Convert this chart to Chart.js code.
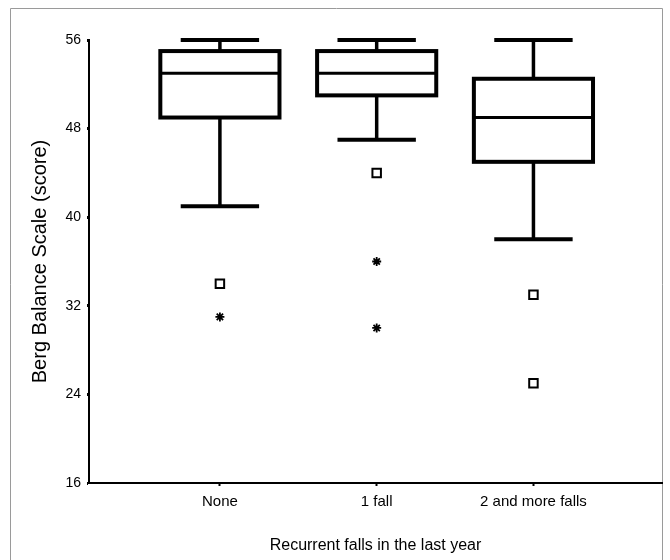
<!DOCTYPE html>
<html>
<head>
<meta charset="utf-8">
<script src="https://cdn.jsdelivr.net/npm/chart.js@4"></script>
<style>
  html, body { margin: 0; padding: 0; background: #fff; }
  #wrap { width: 670px; height: 560px; }
</style>
</head>
<body>
<div id="wrap"><canvas id="bbsChart" width="670" height="560"></canvas></div>
<script>
// Berg Balance Scale by number of recurrent falls
const groups = ['None', '1 fall', '2 and more falls'];
const whiskerHigh = [56, 56, 56];
const q3 = [55, 55, 52.5];
const medians = [53, 53, 49];
const q1 = [49, 51, 45];
const whiskerLow = [41, 47, 38];
const outliersSquare = [[34], [44], [33, 25]];
const outliersStar = [[31], [36, 30], []];
const yTicks = [16, 24, 32, 40, 48, 56];

const FONT = 'Liberation Sans, Arial, sans-serif';

function toPoints(lists) {
    return lists.flatMap((vals, i) => vals.map(v => ({ x: i + 1, y: v })));
}

// outer frame of the figure
const frame = {
    id: 'frame',
    beforeDraw(chart) {
        const ctx = chart.ctx;
        ctx.save();
        ctx.fillStyle = '#fff';
        ctx.fillRect(0, 0, chart.width, chart.height);
        ctx.strokeStyle = '#9a9a9a';
        ctx.lineWidth = 1;
        ctx.beginPath();
        ctx.moveTo(10.5, chart.height);
        ctx.lineTo(10.5, 8.5);
        ctx.lineTo(662.5, 8.5);
        ctx.lineTo(662.5, chart.height);
        ctx.stroke();
        ctx.restore();
    }
};

// boxes, whiskers and medians, placed with the chart's scales
const boxPlot = {
    id: 'boxPlot',
    beforeDatasetsDraw(chart) {
        const { ctx, scales: { x, y } } = chart;
        const seg = (x1, y1, x2, y2) => {
            ctx.beginPath();
            ctx.moveTo(x1, y1);
            ctx.lineTo(x2, y2);
            ctx.stroke();
        };
        ctx.save();
        ctx.strokeStyle = '#000';
        ctx.lineCap = 'butt';
        groups.forEach((g, i) => {
            const pos = i + 1;
            const xc = x.getPixelForValue(pos);
            const bl = x.getPixelForValue(pos - 0.38);
            const br = x.getPixelForValue(pos + 0.38);
            const cl = x.getPixelForValue(pos - 0.25);
            const cr = x.getPixelForValue(pos + 0.25);
            const yHi = y.getPixelForValue(whiskerHigh[i]);
            const yQ3 = y.getPixelForValue(q3[i]);
            const yMed = y.getPixelForValue(medians[i]);
            const yQ1 = y.getPixelForValue(q1[i]);
            const yLo = y.getPixelForValue(whiskerLow[i]);

            ctx.lineWidth = 3.5;
            seg(xc, yHi, xc, yQ3);
            seg(xc, yQ1, xc, yLo);
            ctx.lineWidth = 4;
            seg(cl, yHi, cr, yHi);
            seg(cl, yLo, cr, yLo);
            ctx.strokeRect(bl, yQ3, br - bl, yQ1 - yQ3);
            ctx.lineWidth = 3;
            seg(bl, yMed, br, yMed);
        });
        ctx.restore();
    }
};

const ctx = document.getElementById('bbsChart');
new Chart(ctx.getContext('2d'), {
    type: 'scatter',
    data: {
        datasets: [
            {
                label: 'Outliers',
                data: toPoints(outliersSquare),
                pointStyle: 'rect',
                pointRadius: 6,
                borderWidth: 2,
                borderColor: '#000',
                backgroundColor: '#fff'
            },
            {
                label: 'Extreme values',
                data: toPoints(outliersStar),
                pointStyle: 'star',
                pointRadius: 4.5,
                borderWidth: 1.8,
                borderColor: '#000',
                backgroundColor: '#000'
            }
        ]
    },
    options: {
        responsive: false,
        animation: false,
        layout: { padding: { left: 0, top: 40, right: 7, bottom: 0 } },
        plugins: {
            legend: { display: false },
            tooltip: { enabled: false }
        },
        scales: {
            x: {
                type: 'linear',
                min: 0.165,
                max: 3.82,
                afterBuildTicks: scale => {
                    scale.ticks = groups.map((g, i) => ({ value: i + 1 }));
                },
                afterFit: scale => { scale.height = 77; },
                grid: { drawOnChartArea: false, color: '#000', tickLength: 3, tickWidth: 2 },
                border: { color: '#000', width: 2 },
                ticks: {
                    autoSkip: false,
                    maxRotation: 0,
                    padding: 7,
                    color: '#000',
                    font: { family: FONT, size: 15 },
                    callback: v => groups[v - 1]
                },
                title: {
                    display: true,
                    text: 'Recurrent falls in the last year',
                    color: '#000',
                    font: { family: FONT, size: 16 },
                    padding: { top: 0, bottom: 5 }
                }
            },
            y: {
                min: 16,
                max: 56,
                afterBuildTicks: scale => {
                    scale.ticks = yTicks.map(v => ({ value: v }));
                },
                afterFit: scale => { scale.width = 89; },
                grid: { drawOnChartArea: false, color: '#000', tickLength: 2, tickWidth: 3 },
                border: { color: '#000', width: 2 },
                ticks: {
                    padding: 6,
                    color: '#000',
                    font: { family: FONT, size: 14 }
                },
                title: {
                    display: true,
                    text: 'Berg Balance Scale (score)',
                    color: '#000',
                    font: { family: FONT, size: 20 },
                    padding: { top: 28, bottom: 0 }
                }
            }
        }
    },
    plugins: [frame, boxPlot]
});
</script>
</body>
</html>
